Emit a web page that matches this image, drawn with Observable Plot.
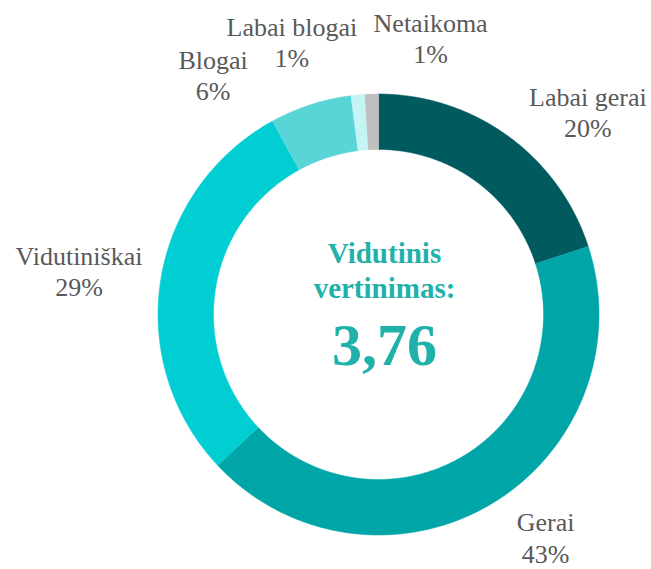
<!DOCTYPE html>
<html>
<head>
<meta charset="utf-8">
<script src="https://cdn.jsdelivr.net/npm/d3@7"></script>
<script src="https://cdn.jsdelivr.net/npm/@observablehq/plot@0.6"></script>
<style>
  html, body { margin: 0; padding: 0; background: #fff; }
  #chart { width: 651px; height: 569px; }
</style>
</head>
<body>
<div id="chart"></div>
<script>
// ---- data ----
const categories = ["Labai gerai", "Gerai", "Vidutiniškai", "Blogai", "Labai blogai", "Netaikoma"];
const shares = [20, 43, 29, 6, 1, 1];
const centerTitle = "Vidutinis\nvertinimas:";
const centerValue = "3,76";

// ---- styles / layout ----
const colors = ["#005a5e", "#00a5a7", "#00ced3", "#5ad5d7", "#c5f4f5", "#bfbfbf"];
const W = 651, H = 569;
const cx = 378, cy = 314;           // pixel centre of the ring
const Rpx = 220.5;                  // outer radius in px
const inner = 165 / Rpx;            // inner radius as fraction of outer
const labelR = 283 / Rpx;           // base radius for labels
// label nudges in px relative to mid-angle position
const labelNudge = [[43, 26], [23, -21], [-20, 0], [-78, 29], [-60, 9], [61, 6]];

// ---- build slices ----
const total = d3.sum(shares);
let acc = 0;
const slices = categories.map((name, i) => {
  const a0 = acc / total * 2 * Math.PI;
  acc += shares[i];
  const a1 = acc / total * 2 * Math.PI;
  return {name, value: shares[i], a0, a1, mid: (a0 + a1) / 2, i};
});

const ringPts = [];
for (const s of slices) {
  const n = Math.max(2, Math.ceil((s.a1 - s.a0) / (Math.PI / 360)));
  for (let k = 0; k <= n; k++) {
    const a = s.a0 + (s.a1 - s.a0) * k / n;
    ringPts.push({name: s.name, x: Math.sin(a), y: Math.cos(a)});
  }
  for (let k = n; k >= 0; k--) {
    const a = s.a0 + (s.a1 - s.a0) * k / n;
    ringPts.push({name: s.name, x: inner * Math.sin(a), y: inner * Math.cos(a)});
  }
}

const labels = slices.map(s => ({
  text: `${s.name}\n${s.value}%`,
  x: labelR * Math.sin(s.mid) + labelNudge[s.i][0] / Rpx,
  y: labelR * Math.cos(s.mid) - labelNudge[s.i][1] / Rpx
}));

const chart = Plot.plot({
  width: W,
  height: H,
  margin: 0,
  x: {domain: [-cx / Rpx, (W - cx) / Rpx], range: [0, W], axis: null},
  y: {domain: [-(H - cy) / Rpx, cy / Rpx], range: [H, 0], axis: null},
  color: {domain: categories, range: colors},
  style: {fontFamily: "'Liberation Serif', 'Times New Roman', serif", background: "#fff"},
  marks: [
    Plot.line(ringPts, {x: "x", y: "y", z: "name", fill: "name", stroke: "name", strokeWidth: 0.5, curve: "linear"}),
    Plot.text(labels, {x: "x", y: "y", text: "text", fontSize: 26, fill: "#595959", lineHeight: 1.2, lineAnchor: "middle", textAnchor: "middle"}),
    Plot.text([centerTitle], {x: () => 0, y: () => 0, text: d => d, dx: 6, dy: -45, fontSize: 29, fontWeight: "bold", fill: "#20b2aa", lineHeight: 1.2, lineAnchor: "middle"}),
    Plot.text([centerValue], {x: () => 0, y: () => 0, text: d => d, dx: 6, dy: 31, fontSize: 60, fontWeight: "bold", fill: "#20b2aa", lineAnchor: "middle"})
  ]
});
document.getElementById("chart").append(chart);
</script>
</body>
</html>
